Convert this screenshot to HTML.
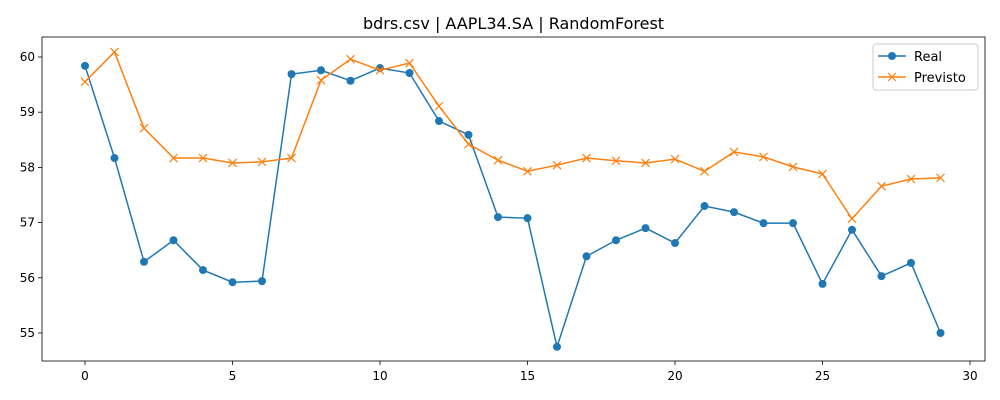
<!DOCTYPE html>
<html><head><meta charset="utf-8"><style>
body{margin:0;background:#fff}
svg{display:block;font-family:"DejaVu Sans","Liberation Sans",sans-serif}
</style></head><body>
<svg id="chart" width="1000" height="400" viewBox="0 0 1000 400" xmlns="http://www.w3.org/2000/svg"></svg>
<script>
const xTicks=[0,5,10,15,20,25,30];
const yTicks=[55,56,57,58,59,60];
const realValues=[59.84,58.17,56.29,56.68,56.14,55.92,55.94,59.69,59.76,59.57,59.80,59.71,58.84,58.59,57.10,57.08,54.75,56.39,56.68,56.90,56.63,57.30,57.19,56.99,56.99,55.89,56.87,56.03,56.27,55.00];
const predValues=[59.55,60.09,58.71,58.17,58.17,58.08,58.10,58.17,59.58,59.96,59.76,59.89,59.11,58.42,58.13,57.93,58.04,58.17,58.12,58.08,58.15,57.93,58.28,58.19,58.01,57.88,57.07,57.66,57.79,57.81];
const svg=document.getElementById('chart');
const NS='http://www.w3.org/2000/svg';
const L=42,T=37,R=985,B=361;
const xs=v=>85+v*(970-85)/30;
const ys=v=>57+(60-v)*(333-57)/5;
function mk(tag,attrs,parent){const e=document.createElementNS(NS,tag);for(const k in attrs)e.setAttribute(k,attrs[k]);(parent||svg).appendChild(e);return e;}
const title=mk('text',{x:(L+R)/2,y:29,'text-anchor':'middle','font-size':16,fill:'#000'});


title.textContent='bdrs.csv | AAPL34.SA | RandomForest';
const frame=mk('rect',{x:L,y:T,width:R-L,height:B-T,fill:'none',stroke:'#000','stroke-width':0.8});


xTicks.forEach(t=>{const x=xs(t);
 const tk=mk('line',{x1:x,x2:x,y1:B,y2:B+4,stroke:'#000','stroke-width':0.8});
 
 
 const tl=mk('text',{x:x,y:B+19,'text-anchor':'middle','font-size':12});
 
 
 tl.textContent=t;});
yTicks.forEach(t=>{const y=ys(t);
 const tk=mk('line',{x1:L-4,x2:L,y1:y,y2:y,stroke:'#000','stroke-width':0.8});
 
 
 const tl=mk('text',{x:L-7,y:y+4,'text-anchor':'end','font-size':12});
 
 
 tl.textContent=t;});
function series(vals,color,marker,name){
 const g=mk('g',{});
 
 
 const p=mk('polyline',{points:vals.map((v,i)=>xs(i)+','+ys(v)).join(' '),fill:'none',stroke:color,'stroke-width':1.5},g);
 
 
 vals.forEach((v,i)=>{const x=xs(i),y=ys(v);let m;
  if(marker==='o'){m=mk('circle',{cx:x,cy:y,r:4,fill:color},g);}
  else{m=mk('path',{d:`M${x-4},${y-4}L${x+4},${y+4}M${x-4},${y+4}L${x+4},${y-4}`,stroke:color,'stroke-width':1.2},g);}
  
  });
}
series(realValues,'#1f77b4','o','real');
series(predValues,'#ff7f0e','x','previsto');
const lg=mk('g',{});


mk('rect',{x:873,y:44,width:105,height:46,rx:3,fill:'#fff',stroke:'#ccc'},lg);
mk('line',{x1:878,x2:906,y1:56,y2:56,stroke:'#1f77b4','stroke-width':1.5},lg);
mk('circle',{cx:892,cy:56,r:4,fill:'#1f77b4'},lg);
const t1=mk('text',{x:914,y:61,'font-size':13},lg);t1.textContent='Real';


mk('line',{x1:878,x2:906,y1:77,y2:77,stroke:'#ff7f0e','stroke-width':1.5},lg);
mk('path',{d:'M888,73L896,81M888,81L896,73',stroke:'#ff7f0e','stroke-width':1.2},lg);
const t2=mk('text',{x:914,y:82,'font-size':13},lg);t2.textContent='Previsto';


</script>
</body></html>
